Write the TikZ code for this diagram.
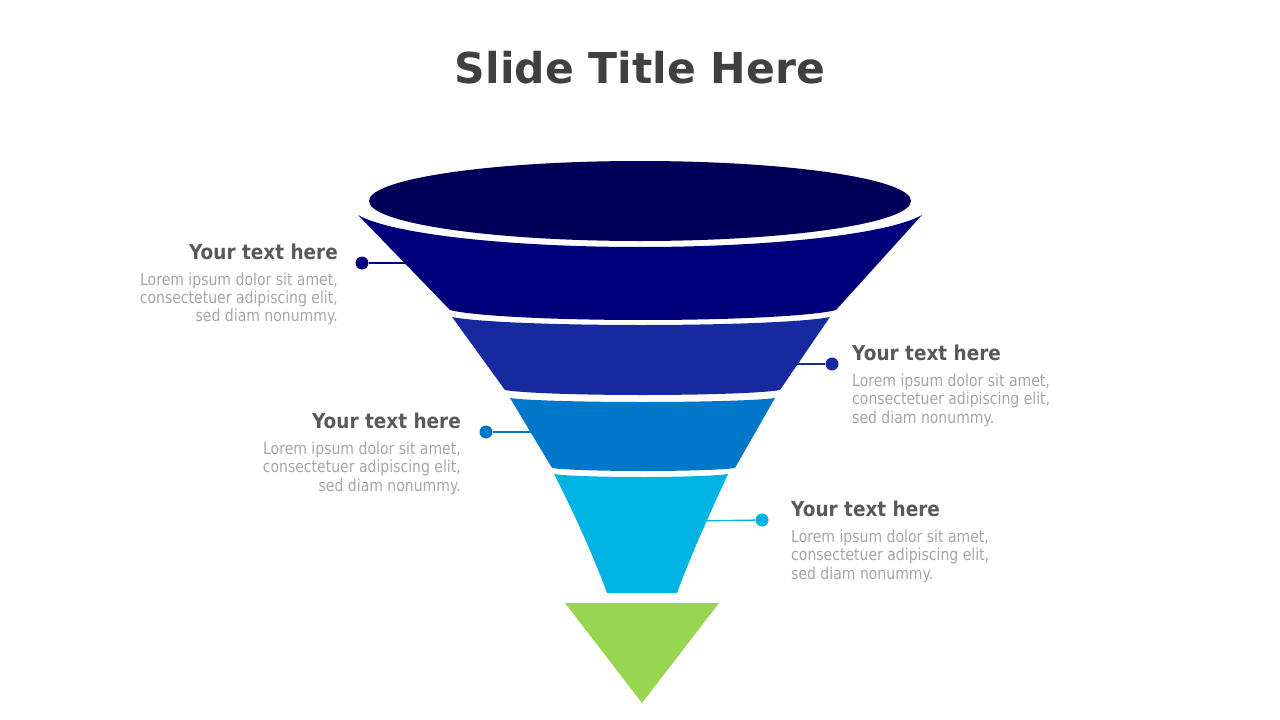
\documentclass[tikz,border=0pt]{standalone}
\usepackage{fontspec}
\setmainfont{DejaVu Sans}
\newfontfamily\titlefont{DejaVu Sans}
\newfontfamily\headfont{DejaVu Sans}[FakeStretch=0.9]
\newfontfamily\bodyfont{DejaVu Sans}[FakeStretch=0.85]
\definecolor{cEll}{RGB}{0,0,90}
\definecolor{cB1}{RGB}{0,0,122}
\definecolor{cB2}{RGB}{22,41,158}
\definecolor{cB3}{RGB}{0,119,200}
\definecolor{cB4}{RGB}{0,179,227}
\definecolor{cTri}{RGB}{152,214,82}
\definecolor{cTitle}{RGB}{64,64,66}
\definecolor{cHead}{RGB}{89,89,89}
\definecolor{cBody}{RGB}{166,166,166}
\begin{document}
\begin{tikzpicture}[x=1pt,y=-1pt,
  dotn/.style={circle,inner sep=0pt,minimum size=13pt},
  conn/.style={line width=1.3pt},
  headtxt/.style={inner sep=0pt,text=cHead,font=\headfont\bfseries\fontsize{20.5}{24}\selectfont},
  bodytxt/.style={inner sep=0pt,text=cBody,font=\bodyfont\fontsize{16.5}{18.5}\selectfont}]
\useasboundingbox (0,0) rectangle (1280,720);
\fill[white] (0,0) rectangle (1280,720);

% title
\node[inner sep=0pt,text=cTitle,font=\titlefont\bfseries\fontsize{42.5}{50}\selectfont,anchor=base] (title) at (640,83.5) {Slide Title Here};

% connectors (drawn first, bands cover their ends)
\node[dotn,fill=cB1] (d1) at (362,263) {};
\coordinate (e1) at (420,263);
\draw[conn,cB1] (d1) -- (e1);
\node[dotn,fill=cB2] (d2) at (832,364) {};
\coordinate (e2) at (780,364);
\draw[conn,cB2] (d2) -- (e2);
\node[dotn,fill=cB3] (d3) at (486,432) {};
\coordinate (e3) at (545,432);
\draw[conn,cB3] (d3) -- (e3);
\node[dotn,fill=cB4] (d4) at (762,520) {};
\coordinate (e4) at (690,521);
\draw[conn,cB4] (d4) -- (e4);

% funnel top ellipse
\fill[cEll] (640,201) ellipse [x radius=271pt, y radius=40pt];

% band 1
\fill[cB1] plot[domain=165.93:14.07,samples=60] ({640+290.7*cos(\x)},{204.7+42.3*sin(\x)})
  -- (836,310)
  -- plot[domain=14.07:165.93,samples=60] ({643+199*cos(\x)},{306.8+13.2*sin(\x)})
  -- cycle;
% band 2
\fill[cB2] plot[domain=165.93:14.07,samples=60] ({641+194.8*cos(\x)},{314.4+10.6*sin(\x)})
  -- (780,390)
  -- plot[domain=14.07:165.93,samples=60] ({642.5+141.8*cos(\x)},{388.4+6.6*sin(\x)})
  -- cycle;
% band 3
\fill[cB3] plot[domain=165.93:14.07,samples=60] ({642.5+136.6*cos(\x)},{396.7+5.3*sin(\x)})
  -- (735,468)
  -- plot[domain=14.07:165.93,samples=60] ({643.5+94.3*cos(\x)},{467+4*sin(\x)})
  -- cycle;
% band 4
\fill[cB4] plot[domain=165.93:14.07,samples=60] ({641+89.7*cos(\x)},{473+4*sin(\x)})
  .. controls (709,515) and (689,560) .. (677,593)
  -- (607,593)
  .. controls (595,560) and (575,515) .. (554,474)
  -- cycle;
% triangle
\fill[cTri] (565,603) -- (719,603) -- (642,703) -- cycle;

% block 1 (left)
\node[headtxt,anchor=base east] (h1) at (338,259) {Your text here};
\node[bodytxt,anchor=base east] (b1a) at (338,285) {Lorem ipsum dolor sit amet,};
\node[bodytxt,anchor=base east] (b1b) at (338,303) {consectetuer adipiscing elit,};
\node[bodytxt,anchor=base east] (b1c) at (338,321) {sed diam nonummy.};
% block 2 (right)
\node[headtxt,anchor=base west] (h2) at (852,360) {Your text here};
\node[bodytxt,anchor=base west] (b2a) at (852,386) {Lorem ipsum dolor sit amet,};
\node[bodytxt,anchor=base west] (b2b) at (852,404.5) {consectetuer adipiscing elit,};
\node[bodytxt,anchor=base west] (b2c) at (852,423) {sed diam nonummy.};
% block 3 (left)
\node[headtxt,anchor=base east] (h3) at (461,428) {Your text here};
\node[bodytxt,anchor=base east] (b3a) at (461,454) {Lorem ipsum dolor sit amet,};
\node[bodytxt,anchor=base east] (b3b) at (461,472.5) {consectetuer adipiscing elit,};
\node[bodytxt,anchor=base east] (b3c) at (461,491) {sed diam nonummy.};
% block 4 (right)
\node[headtxt,anchor=base west] (h4) at (791,516) {Your text here};
\node[bodytxt,anchor=base west] (b4a) at (791,542) {Lorem ipsum dolor sit amet,};
\node[bodytxt,anchor=base west] (b4b) at (791,560.5) {consectetuer adipiscing elit,};
\node[bodytxt,anchor=base west] (b4c) at (791,579) {sed diam nonummy.};
\end{tikzpicture}
\end{document}
